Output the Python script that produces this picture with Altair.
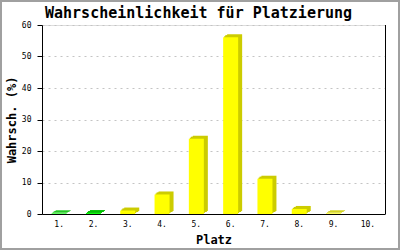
import altair as alt
import pandas as pd

platz = ["1.", "2.", "3.", "4.", "5.", "6.", "7.", "8.", "9.", "10."]
wert = [0.2, 0.3, 1.1, 6.2, 23.9, 56.1, 11.2, 1.6, 0.2, 0.0]
gruppe = ["top", "top", "rest", "rest", "rest", "rest", "rest", "rest", "rest", "rest"]
titel = "Wahrscheinlichkeit für Platzierung"

df = pd.DataFrame({"platz": platz, "wert": wert, "gruppe": gruppe})

MONO = "DejaVu Sans Mono"

xenc = alt.X("platz:N", sort=platz, scale=alt.Scale(paddingInner=0, paddingOuter=0),
             axis=alt.Axis(title="Platz", labelAngle=0, ticks=False, labelPadding=6,
                           labelFont=MONO, labelFontSize=8, labelColor="black",
                           titleFont=MONO, titleFontSize=12, titleFontWeight="bold",
                           titlePadding=6, domainColor="black", grid=False))
yenc = alt.Y("wert:Q", scale=alt.Scale(domain=[0, 60], nice=False),
             axis=alt.Axis(title="Wahrsch. (%)", values=[0, 10, 20, 30, 40, 50, 60],
                           tickSize=5, tickColor="black", labelPadding=6,
                           labelFont=MONO, labelFontSize=8, labelColor="black",
                           titleFont=MONO, titleFontSize=12, titleFontWeight="bold",
                           titlePadding=3, domainColor="black",
                           grid=True, gridColor="#c4c4c4", gridDash=[2, 4]))

base = alt.Chart(df).encode(x=xenc, y=yenc)

dark = alt.condition(alt.datum.gruppe == "top", alt.value("#00c000"), alt.value("#cccc00"))
light = alt.condition(alt.datum.gruppe == "top", alt.value("#00ff00"), alt.value("#ffff00"))

layers = []
for dx, dy in [(4, 3), (3, 2), (2, 2), (1, 1)]:
    layers.append(base.mark_bar(size=15, xOffset=dx, x2Offset=dx, yOffset=-dy, y2Offset=-dy)
                  .encode(fill=dark))
layers.append(base.mark_bar(size=15).encode(fill=light))

frame_data = alt.Data(values=[{"t": titel}])
right_line = alt.Chart(frame_data).mark_rule(color="black").encode(
    x=alt.value(343.5), y=alt.value(0), y2=alt.value(189))
border = alt.Chart(frame_data).mark_rect(fill=None, stroke="#a0a0a0", strokeWidth=2).encode(
    x=alt.value(-41), x2=alt.value(357), y=alt.value(-24), y2=alt.value(224))
title_mark = alt.Chart(frame_data).mark_text(
    font=MONO, fontSize=15, fontWeight="bold", align="center", baseline="alphabetic",
    color="black").encode(x=alt.value(156.5), y=alt.value(-7), text="t:N")

chart = alt.layer(*layers, right_line, border, title_mark).properties(
    width=343, height=189,
    padding={"left": 42, "top": 25, "right": 15, "bottom": 36},
    autosize=alt.AutoSizeParams(type="none"),
).configure_view(stroke=None).configure(background="white")

chart.save("out.html", embed_options={"renderer": "svg", "actions": False})
